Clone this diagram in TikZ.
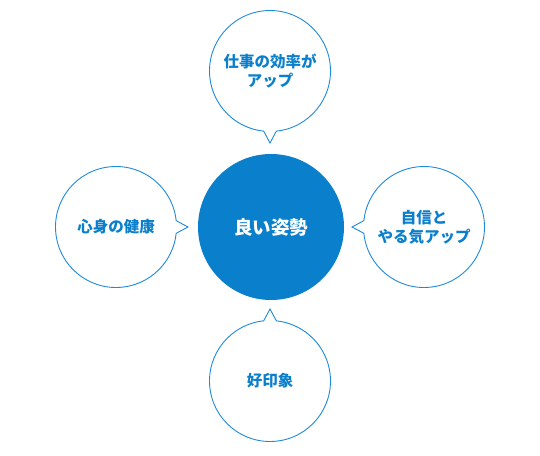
\documentclass[tikz,border=0pt]{standalone}
\usepackage{fontspec}
\newfontfamily\cjk{Noto Sans CJK JP}[BoldFont={Noto Sans CJK JP Black}]
\usetikzlibrary{calc}
\definecolor{mainblue}{HTML}{0A80CC}
\definecolor{lineblue}{HTML}{1E8ADA}
\definecolor{textblue}{HTML}{0A7FCC}
\tikzset{
  hub/.style={circle, fill=mainblue, minimum size=146pt, inner sep=0pt, text=white, font=\cjk\bfseries\fontsize{18.5}{22}\selectfont},
  bubble/.style={circle, minimum size=121pt, inner sep=0pt, align=center, text=textblue, font=\cjk\bfseries\fontsize{15.5}{19}\selectfont},
  outline/.style={draw=lineblue, line width=0.9pt, line join=miter}
}
\newcommand{\bubbleoutline}[2]{%
  \draw[outline] ($(#1)+(#2+6:60.5)$) arc[start angle=#2+6, end angle=#2+354, radius=60.5] -- ($(#1)+(#2:72)$) -- cycle;}
\begin{document}
\begin{tikzpicture}[x=1pt,y=1pt]
\useasboundingbox (0,0) rectangle (540,455);
\node[hub] (hub) at (271,228) {良い姿勢};
\node[bubble] (top) at (270,384) {仕事の効率が\\アップ};
\node[bubble] (left) at (116,228) {心身の健康};
\node[bubble] (right) at (424,228) {自信と\\やる気アップ};
\node[bubble] (bottom) at (270,74) {好印象};
\bubbleoutline{top}{-90}
\bubbleoutline{left}{0}
\bubbleoutline{right}{180}
\bubbleoutline{bottom}{90}
\end{tikzpicture}
\end{document}
